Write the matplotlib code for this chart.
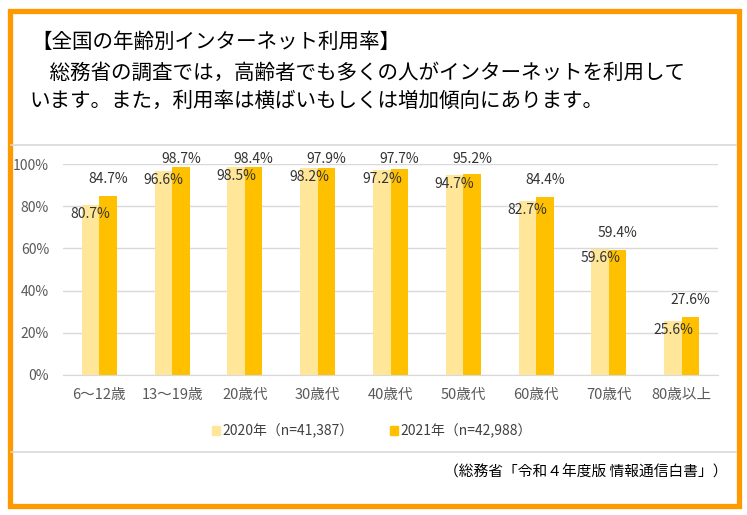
import matplotlib.pyplot as plt
import numpy as np
from matplotlib.patches import Rectangle, Patch
from matplotlib.lines import Line2D

plt.rcParams['font.family'] = ['Noto Sans CJK JP', 'DejaVu Sans']

# data
categories = ["6～12歳", "13～19歳", "20歳代", "30歳代", "40歳代", "50歳代", "60歳代", "70歳代", "80歳以上"]
rate_2020 = [80.7, 96.6, 98.5, 98.2, 97.2, 94.7, 82.7, 59.6, 25.6]
rate_2021 = [84.7, 98.7, 98.4, 97.9, 97.7, 95.2, 84.4, 59.4, 27.6]
series_names = ["2020年（n=41,387）", "2021年（n=42,988）"]

c_light = "#FFE699"
c_dark = "#FFC000"
c_grid = "#D9D9D9"

W, H = 747, 515
fig = plt.figure(figsize=(W / 100, H / 100), dpi=100)

# orange frame + gray separators
fig.patches.append(Rectangle((9.5 / W, 9.5 / H), 729 / W, 495 / H, transform=fig.transFigure,
                             fill=False, edgecolor="#FF9900", linewidth=3.8))
for yy in [145, 452]:
    fig.add_artist(Line2D([11 / W, 736 / W], [1 - yy / H, 1 - yy / H], transform=fig.transFigure,
                          color=c_grid, linewidth=1.2))

# heading text
fig.text(31 / W, 1 - 42 / H, "【全国の年齢別インターネット利用率】", fontsize=14.8, va="center", ha="left")
fig.text(29 / W, 1 - 73 / H, "　総務省の調査では，高齢者でも多くの人がインターネットを利用して",
         fontsize=14.8, va="center", ha="left")
fig.text(29 / W, 1 - 101 / H, "います。また，利用率は横ばいもしくは増加傾向にあります。",
         fontsize=14.8, va="center", ha="left")

ax = fig.add_axes([63 / W, 1 - 375 / H, 655 / W, 211 / H])
x = np.arange(len(categories))
bw = 0.24
ax.bar(x - bw / 2, rate_2020, bw, color=c_light, zorder=3)
ax.bar(x + bw / 2, rate_2021, bw, color=c_dark, zorder=3)

for i in range(len(categories)):
    ax.text(x[i] - bw / 2, rate_2020[i] - 4.3, f"{rate_2020[i]:.1f}%", ha="center", va="center",
            fontsize=10, color="#333333", zorder=5)
    ax.text(x[i] + bw / 2, min(rate_2021[i] + 8, 102.4), f"{rate_2021[i]:.1f}%", ha="center", va="center",
            fontsize=10, color="#333333", zorder=5)

ax.set_xlim(-0.5, len(categories) - 0.5)
ax.set_ylim(0, 100)
ax.set_yticks([0, 20, 40, 60, 80, 100])
ax.set_yticklabels([f"{v}%" for v in [0, 20, 40, 60, 80, 100]])
ax.set_xticks(x)
ax.set_xticklabels(categories)
ax.tick_params(axis="both", length=0, labelsize=10, colors="#595959")
ax.tick_params(axis="x", labelsize=10.5, pad=9)
ax.tick_params(axis="y", pad=10)
ax.grid(axis="y", color=c_grid, linewidth=1, zorder=0)
ax.set_axisbelow(True)
for s in ["top", "right", "left"]:
    ax.spines[s].set_visible(False)
ax.spines["bottom"].set_color(c_grid)
ax.spines["bottom"].set_zorder(4)

handles = [Patch(color=c_light), Patch(color=c_dark)]
fig.legend(handles, series_names, loc="center", bbox_to_anchor=(372 / W, 1 - 431 / H), ncol=2,
           frameon=False, fontsize=10, handlelength=0.55, handleheight=0.55, handletextpad=0.2,
           columnspacing=2.6, labelcolor="#404040")

fig.text(727 / W, 1 - 472 / H, "（総務省「令和４年度版 情報通信白書」）", fontsize=10.6, ha="right", va="center")

fig.savefig("out.png", dpi=100)
